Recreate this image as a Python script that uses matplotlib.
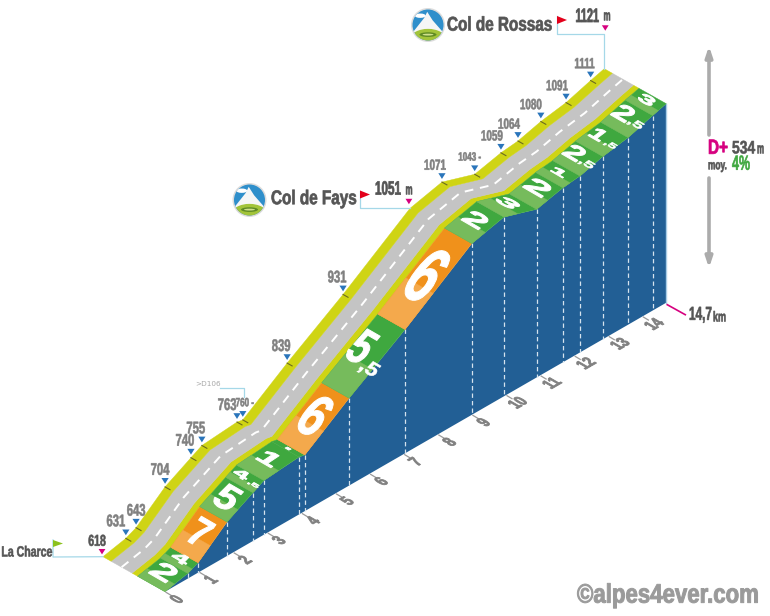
import matplotlib
matplotlib.use("Agg")
import matplotlib.pyplot as plt
import matplotlib.patheffects as pe
from matplotlib.patches import Circle, Ellipse, Polygon
from matplotlib.transforms import Affine2D
import numpy as np

# profil : points de rupture (km, altitude en m)
km = [0, 0.67, 0.97, 1.82, 2.58, 2.9, 3.93, 4.1, 5.4, 7.04, 9.0, 9.94, 10.9, 11.67, 12.17, 12.84, 13.58, 14.3, 14.7]
alt = [618, 631, 643, 704, 740, 755, 763, 760, 839, 931, 1051, 1071, 1043, 1059, 1064, 1080, 1091, 1111, 1121]
pente = ["2", "4", "7", "5", "4,5", "1", "-", "6", "5,5", "6", "2", "3", "2", "1", "2,5", "1,5", "2,5", "3"]
km_labels = list(range(15))

# taille des chiffres de pente, en pixels (largeur, longueur le long de la pente)
larg = [23, 17, 20, 22, 15, 21, 9, 24, 20, 27, 23, 21, 25, 17, 19, 15, 19, 17]
long_ = [20, 10, 30, 27, 9, 17, 3, 45, 38, 61, 17, 14, 17, 8, 17, 14, 18, 10]

# projection isometrique vers les pixels de l'image
X0, Y0 = 165.0, 591.7
DX_KM, DY_KM = 34.1, -19.66
PX_M = 0.3956
DEPTH = np.array([-62.0, -35.0])

GREEN, GREEN_L = "#3fa83f", "#76bb5c"
ORANGE, ORANGE_L = "#f0911b", "#f4a94c"
BLUE = "#225f95"
YELLOW = "#cfd414"
ROAD = "#c4c4c4"
GREY = "#808080"
DARK = "#555555"
PINK = "#d6007f"
CYAN = "#a5d8e8"


class Etire(pe.AbstractPathEffect):
    # etire et cisaille le texte dans son repere local (police type Impact absente)
    def __init__(self, sy=1.0, k=0.0, lw=0.35):
        super().__init__()
        self.sy, self.k, self.lw = sy, k, lw

    def draw_path(self, renderer, gc, tpath, affine, rgbFace=None):
        ext = tpath.get_extents()
        cx, cy = (ext.x0 + ext.x1) / 2, (ext.y0 + ext.y1) / 2
        local = Affine2D().translate(-cx, -cy).scale(1, self.sy)
        local = Affine2D(local.get_matrix()) + Affine2D(np.array([[1, self.k, cx], [0, 1, cy], [0, 0, 1.0]]))
        gc0 = renderer.new_gc()
        gc0.copy_properties(gc)
        gc0.set_foreground(rgbFace)
        gc0.set_linewidth(self.lw)
        renderer.draw_path(gc0, tpath, local + affine, rgbFace)
        gc0.restore()


def label(x, y, s, fs, sy=1.45, color=GREY, ha="center", rot=0, k=0.0, lw=0.4, z=6):
    ax.text(x, y, s, color=color, fontsize=fs, family="Liberation Sans", weight="bold", ha=ha, va="center",
            rotation=rot, rotation_mode="anchor", zorder=z, path_effects=[Etire(sy, k, lw)])


def proj(k, a=None, d=0.0):
    k = np.asarray(k, dtype=float)
    if a is None:
        y = Y0 + k * DY_KM
    else:
        y = Y0 + k * DY_KM - (np.asarray(a, dtype=float) - alt[0]) * PX_M
    return X0 + k * DX_KM + d * DEPTH[0], y + d * DEPTH[1]


def band(k, a, d0, d1, color, z=2):
    x0, y0 = proj(k, a, d0)
    x1, y1 = proj(k, a, d1)
    pts = np.r_[np.c_[x0, y0], np.c_[x1, y1][::-1]]
    ax.add_patch(Polygon(pts, closed=True, fc=color, ec=color, lw=0.3, zorder=z))


def flag(x, y, color, w=10, h=8):
    ax.add_patch(Polygon([(x, y), (x + w, y + h / 2), (x, y + h)], fc=color, ec="none", zorder=6))


def marker(x, y, color, s=4):
    ax.add_patch(Polygon([(x - s, y - s * 0.8), (x + s, y - s * 0.8), (x, y + s * 0.8)], fc=color, ec="none", zorder=6))


def logo(x, y, r=15.5):
    ax.add_patch(Circle((x, y), r + 1.5, fc="#dcdcdc", ec="none", zorder=5))
    disque = Circle((x, y), r, fc="#2f8fcb", ec="none", zorder=5)
    ax.add_patch(disque)
    formes = [
        Polygon([(x - r, y + r * 0.5), (x - r * 0.25, y - r * 0.45), (x - r * 0.05, y - r * 0.85),
                 (x + r * 0.3, y - r * 0.3), (x + r, y + r * 0.5)], fc="#f6f6f6", ec="none", zorder=6),
        Ellipse((x - r * 0.5, y - r * 0.6), r * 0.7, r * 0.28, fc="white", ec="none", zorder=6),
        Ellipse((x, y + r * 0.85), r * 2.2, r * 1.2, fc="#a3c43a", ec="none", zorder=7),
        Ellipse((x, y + r * 0.62), r * 1.1, r * 0.3, fc="#5f8a25", ec="none", zorder=8),
        Ellipse((x, y + r * 0.62), r * 0.7, r * 0.12, fc="#cfe08a", ec="none", zorder=8),
    ]
    for f in formes:
        ax.add_patch(f)
        f.set_clip_path(disque)


fig = plt.figure(figsize=(7.7, 6.16), dpi=100)
ax = fig.add_axes([0, 0, 1, 1])
ax.set_xlim(0, 770)
ax.set_ylim(616, 0)
ax.axis("off")

# face avant bleue
xt, yt = proj(km, alt)
xb, yb = proj(km)
ax.add_patch(Polygon(np.r_[np.c_[xt, yt], np.c_[xb, yb][::-1]], fc=BLUE, ec="none", zorder=1))
ax.plot([xt[-1], xb[-1]], [yt[-1], yb[-1]], color="#a9cde6", lw=1, zorder=2)
for i in range(1, len(km) - 1):
    ax.plot([xt[i], xb[i]], [yt[i], yb[i]], color="#d5e3ee", lw=0.9, ls=(0, (3.5, 2.5)), zorder=2)

# bandes de la route
band(km, alt, 0.44, 0.53, YELLOW)
band(km, alt, 0.53, 0.87, ROAD)
band(km, alt, 0.87, 1.0, YELLOW)
xr, yr = proj(km, alt, 0.70)
ax.plot(xr, yr, color="white", lw=1.4, ls=(0, (4.5, 3.5)), zorder=3)

# bande des pentes
for i, p in enumerate(pente):
    steep = p in ("6", "7")
    dark, light = (ORANGE, ORANGE_L) if steep else (GREEN, GREEN_L)
    k = np.array([km[i], km[i + 1]])
    a = np.array([alt[i], alt[i + 1]])
    band(k, a, 0.0, 0.44, dark, z=2)
    if p != "-":
        kmid = k[0] + 0.42 * (k[1] - k[0])
        amid = a[0] + 0.42 * (a[1] - a[0])
        band([k[0], kmid], [a[0], amid], 0.0, 0.44, light, z=2.1)

# chiffres des pentes, couches sur le plan de la bande
for i, p in enumerate(pente):
    x1, y1 = proj(km[i], alt[i])
    x2, y2 = proj(km[i + 1], alt[i + 1])
    ang = np.degrees(np.arctan2(y1 - y2, x2 - x1))
    t = np.radians(ang + 30)
    fs = larg[i] / 0.772
    sy = 1.0 if p == "-" else long_[i] * np.sin(t) / fs
    shear = 1 / np.tan(t)
    xc, yc = proj((km[i] + km[i + 1]) / 2, (alt[i] + alt[i + 1]) / 2, 0.22)
    major = p.split(",")[0]
    if "," in p:
        ox, oy = (8, 20) if p == "5,5" else (13, 8.5)
        fs_dec = fs * (0.62 if p == "5,5" else 0.55)
        sy_dec = sy * (0.62 if p == "5,5" else 0.8)
        label(xc + 0.65 * ox, yc + 0.65 * oy, ",5", fs_dec, sy=sy_dec, color="white", rot=-30, k=shear, lw=0.4, z=4)
        xc -= 0.35 * ox
        yc -= 0.35 * oy
    label(xc, yc, major, fs, sy=sy, color="white", rot=-30, k=shear, lw=0.7, z=4)

# reperes kilometriques
for k in km_labels:
    x, y = proj(k)
    ax.plot([x + 1, x + 6], [y + 0.6, y + 3.6], color="#9a9a9a", lw=0.9, zorder=3)
    label(x + 12, y + 8.5, str(k), 9, sy=1.25, rot=30, k=-0.577, lw=0.6)

# altitudes intermediaires
decal = {631: -10, 643: 0, 704: -5, 763: -10, 760: 2, 1071: -7, 1043: -5, 1059: -9, 1064: -9, 1080: -10, 1091: -9}
petits = (760, 1043)
for k, a in zip(km[1:-1], alt[1:-1]):
    if a == 1051:
        continue
    x, y = proj(k, a, 1.0)
    x2, y2 = proj(k, a, 0.92)
    ax.plot([x, x2], [y, y2], color="#6b6b20", lw=0.8, zorder=3)
    marker(x, y - 6, "#2a75bb", s=3.6)
    if a in petits:
        label(x + decal[a], y - 16.5, f"{a} -", 5.8, sy=1.5)
    else:
        label(x + decal.get(a, -6), y - 17, str(a), 8.1 if a < 1000 else 7.1, sy=1.5)

# depart
xd, yd = proj(0, alt[0], 1.0)
ax.plot([53, 53, xd], [540, 557, yd], color=CYAN, lw=0.9, zorder=3)
flag(53, 540, "#8cc21f", w=10, h=7)
marker(xd - 1, yd - 5, PINK, s=3.4)
label(97, 541, str(alt[0]), 7.6, sy=1.5, color=DARK)
label(52, 552, "La Charce", 7.6, sy=1.4, color=DARK, ha="right")

# Col de Fays
xf, yf = proj(9.0, 1051, 1.0)
ax.plot([360, 360, xf], [191, 208, 208], color=CYAN, lw=0.9, zorder=3)
flag(360, 190.5, "#e3001b")
marker(xf - 1, 201.5, PINK, s=3.4)
logo(249.5, 200)
label(271, 199, "Col de Fays", 11, sy=1.3, color=DARK, ha="left", lw=0.5)
label(388, 189, "1051", 8.4, sy=1.66, color=DARK, lw=0.5)
label(409, 191, "m", 5.7, sy=1.9, color=DARK)

# Col de Rossas
xs, ys = proj(km[-1], alt[-1], 1.0)
ax.plot([557, 557, xs, xs], [16, 33.5, 33.5, ys], color=CYAN, lw=0.9, zorder=3)
flag(557, 16, "#e3001b")
marker(xs + 1, 28, PINK, s=3.4)
logo(428, 25)
label(447, 25, "Col de Rossas", 11, sy=1.3, color=DARK, ha="left", lw=0.5)
label(587, 16, str(alt[-1]), 7.8, sy=1.8, color=DARK, lw=0.5)
label(607, 17, "m", 5.7, sy=1.9, color=DARK)

# sortie D106
ax.plot([220, 244, 244], [388, 388, 397], color=CYAN, lw=0.9, zorder=3)
ax.text(208, 384.5, ">D106", color="#a8a8a8", fontsize=5.2, ha="center", va="center")

# denivele a droite
arrow = dict(arrowstyle="-|>,head_width=0.2,head_length=0.6", color="#ababab", lw=2.6, shrinkA=0, shrinkB=0)
ax.annotate("", xy=(709, 46), xytext=(709, 135), arrowprops=arrow)
ax.annotate("", xy=(709, 268), xytext=(709, 178), arrowprops=arrow)
label(708, 148, "D+", 11, sy=1.35, color=PINK, ha="left", lw=0.5)
label(732, 148, "534", 10, sy=1.3, color=DARK, ha="left", lw=0.4)
label(757, 150, "m", 5.7, sy=1.9, color=DARK, ha="left")
label(708, 167, "moy.", 6, sy=1.6, color=DARK, ha="left")
label(732, 164, "4%", 9, sy=1.65, color=GREEN, ha="left", lw=0.4)

# longueur totale
x, y = proj(km[-1])
ax.plot([x + 1, x + 19], [y + 2, y + 12], color=PINK, lw=1.2, zorder=3)
label(689, 315, "14,7", 8.5, sy=1.6, color=DARK, ha="left", lw=0.4)
label(713, 317, "km", 6.5, sy=1.6, color=DARK, ha="left")

label(759, 596, "©alpes4ever.com", 16, sy=1.2, color="#9a9a9a", ha="right", lw=0.7)

fig.savefig("out.png", dpi=100)
